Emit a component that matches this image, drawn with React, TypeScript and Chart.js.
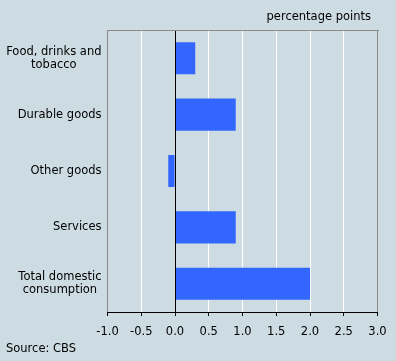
import React, { useEffect, useRef } from "react";
import { Chart, registerables } from "chart.js";

Chart.register(...registerables);

const categories: (string | string[])[] = [
  ["Food, drinks and", "tobacco"],
  "Durable goods",
  "Other goods",
  "Services",
  ["Total domestic", "consumption"],
];
const values = [0.3, 0.9, -0.1, 0.9, 2.0];
const xTicks = [-1, -0.5, 0, 0.5, 1, 1.5, 2, 2.5, 3];
const unitLabel = "percentage points";
const sourceLabel = "Source: CBS";

const FONT_FAMILY = '"DejaVu Sans", Verdana, sans-serif';
const FONT_SIZE = 11.5;
const FONT = `${FONT_SIZE}px ${FONT_FAMILY}`;
const BG = "#cddce2";

const textPlugin = {
  id: "customText",
  afterDatasetsDraw(chart: any) {
    const ctx = chart.ctx as CanvasRenderingContext2D;
    const area = chart.chartArea;
    const x0 = Math.round(chart.scales.x.getPixelForValue(0) - 0.5) + 0.5;
    ctx.save();
    ctx.strokeStyle = "#000";
    ctx.lineWidth = 1;
    ctx.beginPath();
    ctx.moveTo(x0, area.top);
    ctx.lineTo(x0, area.bottom);
    ctx.stroke();
    ctx.restore();
  },
  afterDraw(chart: any) {
    const ctx = chart.ctx as CanvasRenderingContext2D;
    const area = chart.chartArea;
    const yScale = chart.scales.y;
    ctx.save();
    // top border
    ctx.strokeStyle = "#8a8a8a";
    ctx.lineWidth = 1;
    ctx.beginPath();
    ctx.moveTo(Math.floor(area.left), Math.round(area.top) + 0.5);
    ctx.lineTo(Math.ceil(area.right) + 1, Math.round(area.top) + 0.5);
    ctx.stroke();

    ctx.font = FONT;
    ctx.fillStyle = "#000";
    ctx.textBaseline = "middle";
    const lh = 13.3;
    categories.forEach((label, i) => {
      const lines = Array.isArray(label) ? label : [label];
      const y = yScale.getPixelForValue(i);
      const w = Math.max(...lines.map((l) => ctx.measureText(l).width));
      const right = 101.5;
      ctx.textAlign = "center";
      lines.forEach((l, j) => {
        ctx.fillText(l, right - w / 2, y + (j - (lines.length - 1) / 2) * lh);
      });
    });
    ctx.textAlign = "right";
    ctx.fillText(unitLabel, 371, 17);
    ctx.textAlign = "left";
    ctx.fillText(sourceLabel, 6, 349);
    ctx.restore();
  },
};

export default function App() {
  const ref = useRef<HTMLCanvasElement | null>(null);
  useEffect(() => {
    document.body.style.margin = "0";
    document.body.style.background = BG;
    if (!ref.current) return;
    const chart = new Chart(ref.current, {
      type: "bar",
      data: {
        labels: categories.map((c) => (Array.isArray(c) ? c.join(" ") : c)),
        datasets: [
          {
            data: values,
            backgroundColor: "#3366ff",
            borderWidth: 0,
            barPercentage: 0.57,
            categoryPercentage: 1,
          },
        ],
      },
      options: {
        animation: false,
        responsive: false,
        maintainAspectRatio: false,
        indexAxis: "y",
        layout: { padding: { top: 30, right: 18.5, bottom: 19, left: 0 } },
        plugins: {
          legend: { display: false },
          tooltip: { enabled: false },
          title: { display: false },
        },
        scales: {
          x: {
            type: "linear",
            min: -1,
            max: 3,
            afterBuildTicks: (s: any) => {
              s.ticks = xTicks.map((v) => ({ value: v }));
            },
            ticks: {
              callback: (v: any) => Number(v).toFixed(1),
              font: { family: FONT_FAMILY, size: FONT_SIZE },
              color: "#000",
              padding: 9,
              maxRotation: 0,
              autoSkip: false,
            },
            grid: {
              color: (c: any) => {
                const v = c.tick ? c.tick.value : null;
                if (v === 0) return "#000";
                if (v === -1 || v === 3) return "#8a8a8a";
                return "#ffffff";
              },
              tickColor: "#000",
              tickLength: 4,
              drawTicks: true,
            },
            border: { display: true, color: "#000" },
            afterFit: (s: any) => {
              s.height = 30;
            },
          },
          y: {
            type: "category",
            ticks: { display: false },
            grid: { display: false },
            border: { display: false },
            afterFit: (s: any) => {
              s.width = 107.5;
            },
          },
        },
      } as any,
      plugins: [textPlugin],
    });
    return () => chart.destroy();
  }, []);
  return (
    <div
      style={{
        position: "absolute",
        left: 0,
        top: 0,
        width: 396,
        height: 361,
        background: BG,
      }}
    >
      <canvas ref={ref} width={396} height={361} style={{ display: "block" }} />
    </div>
  );
}
